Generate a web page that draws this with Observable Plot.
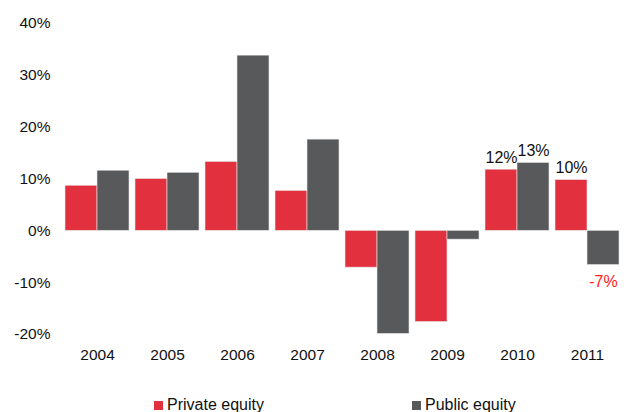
<!DOCTYPE html>
<html>
<head>
<meta charset="utf-8">
<script src="https://cdn.jsdelivr.net/npm/d3@7"></script>
<script src="https://cdn.jsdelivr.net/npm/@observablehq/plot@0.6"></script>
<style>
  body { margin: 0; background: #fff; font-family: "Liberation Sans", Arial, sans-serif; }
  #wrap { position: relative; width: 628px; height: 412px; overflow: hidden; }
  .leg { position: absolute; top: 396px; font-size: 16px; line-height: 18px; color: #111; display: flex; align-items: center; }
  .sw { width: 9px; height: 9px; margin-right: 4px; display: inline-block; }
</style>
</head>
<body>
<div id="wrap"></div>
<script>
const years = ["2004", "2005", "2006", "2007", "2008", "2009", "2010", "2011"];
const seriesNames = ["Private equity", "Public equity"];
const privateEquity = [8.7, 10.0, 13.3, 7.7, -7.1, -17.6, 11.8, 9.8];
const publicEquity = [11.6, 11.2, 33.8, 17.6, -19.9, -1.7, 13.1, -6.6];
const colors = ["#E3303F", "#58595B"];
const yTicks = [-20, -10, 0, 10, 20, 30, 40];
const labelYears = ["2010", "2010", "2011", "2011"];
const labelSeries = ["Private equity", "Public equity", "Private equity", "Public equity"];
const labelValues = [11.8, 13.1, 9.8, -6.6];
const labelTexts = ["12%", "13%", "10%", "-7%"];

const data = [];
years.forEach((y, i) => {
  data.push({year: y, series: seriesNames[0], value: privateEquity[i]});
  data.push({year: y, series: seriesNames[1], value: publicEquity[i]});
});
const labels = labelTexts.map((t, i) => ({year: labelYears[i], series: labelSeries[i], value: labelValues[i], text: t}));

const chart = Plot.plot({
  width: 628,
  height: 380,
  marginLeft: 62,
  marginRight: 6,
  marginTop: 23,
  marginBottom: 46,
  style: {fontFamily: "'Liberation Sans', Arial, sans-serif", fontSize: "15.5px", color: "#111", background: "#fff"},
  fx: {domain: years, paddingInner: 0.09, paddingOuter: 0, label: null, tickSize: 0, tickPadding: 14},
  x: {domain: seriesNames, padding: 0, axis: null},
  y: {domain: [-20, 40], ticks: yTicks, tickFormat: d => d + "%", tickSize: 0, tickPadding: 15, label: null},
  color: {domain: seriesNames, range: colors},
  marks: [
    Plot.barY(data, {fx: "year", x: "series", y: "value", fill: "series", stroke: "#e6e6e6", strokeWidth: 0.6}),
    Plot.text(labels.filter(d => d.value >= 0), {fx: "year", x: "series", y: "value", text: "text", dy: -12, fontSize: 16, fill: "#111"}),
    Plot.text(labels.filter(d => d.value < 0), {fx: "year", x: "series", y: "value", text: "text", dy: 17, fontSize: 16, fill: "#FF1A1A"})
  ]
});
const wrap = document.getElementById("wrap");
wrap.appendChild(chart);

const legPos = [154, 412];
seriesNames.forEach((s, i) => {
  const el = document.createElement("div");
  el.className = "leg";
  el.style.left = legPos[i] + "px";
  el.innerHTML = `<span class="sw" style="background:${colors[i]}"></span><span>${s}</span>`;
  wrap.appendChild(el);
});
</script>
</body>
</html>
